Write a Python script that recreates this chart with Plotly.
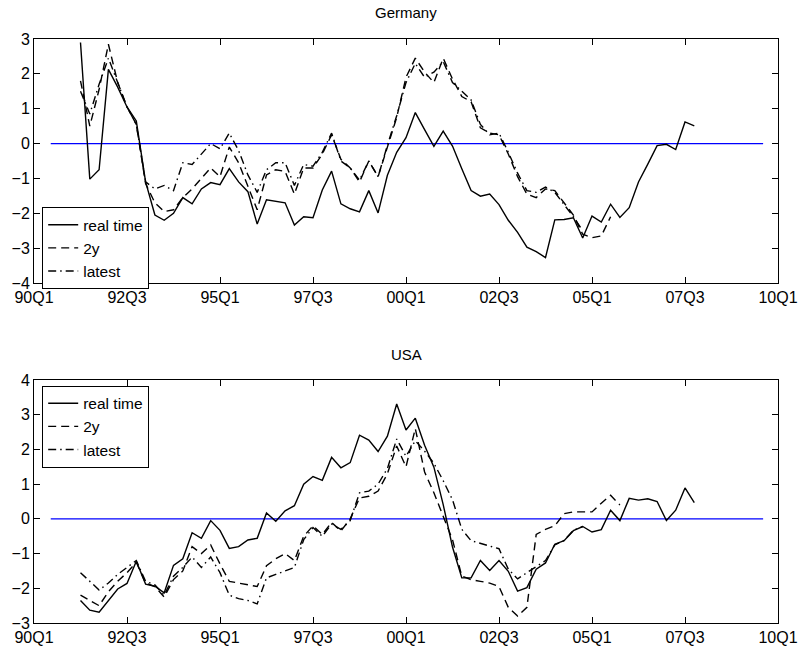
import plotly.graph_objects as go

# ---------------- data ----------------
tick_vals = [0, 10, 20, 30, 40, 50, 60, 70, 80]
tick_text = ["90Q1", "92Q3", "95Q1", "97Q3", "00Q1", "02Q3", "05Q1", "07Q3", "10Q1"]
first_quarter = 5  # quarters after 90Q1 where the series start (91Q2)

de_real = [2.9, -1.02, -0.75, 2.13, 1.62, 1.05, 0.65, -1.1, -2.05, -2.2,
           -2.0, -1.55, -1.73, -1.3, -1.12, -1.18, -0.72, -1.1, -1.38, -2.31,
           -1.61, -1.66, -1.7, -2.34, -2.1, -2.13, -1.33, -0.79, -1.73, -1.87,
           -1.96, -1.35, -1.99, -0.91, -0.25, 0.17, 0.89, 0.40, -0.08, 0.36,
           -0.07, -0.72, -1.35, -1.51, -1.45, -1.75, -2.2, -2.55, -2.97, -3.1,
           -3.27, -2.19, -2.18, -2.13, -2.71, -2.08, -2.25, -1.74, -2.12, -1.84,
           -1.10, -0.59, -0.06, -0.02, -0.17, 0.62, 0.51]
de_2y = [1.8, 0.5, 1.55, 2.85, 1.75, 1.05, 0.55, -1.15, -1.7, -1.95,
         -1.9, -1.55, -1.3, -1.0, -0.7, -0.95, -0.1, -0.55, -1.2, -1.9,
         -0.9, -0.75, -0.8, -1.45, -0.7, -0.7, -0.3, 0.25, -0.45, -0.7,
         -1.1, -0.5, -0.95, -0.1, 0.75, 1.9, 2.45, 2.05, 1.75, 2.45,
         1.85, 1.35, 1.2, 0.45, 0.3, 0.25, -0.3, -0.95, -1.45, -1.55,
         -1.3, -1.35, -1.7, -2.05, -2.6, -2.7, -2.65, -2.1]
de_latest = [1.5, 0.85, 1.7, 2.45, 1.75, 1.05, 0.55, -1.1, -1.3, -1.2,
             -1.35, -0.55, -0.6, -0.3, 0.0, -0.15, 0.3, -0.2, -0.9, -1.4,
             -0.75, -0.55, -0.55, -1.2, -0.6, -0.65, -0.25, 0.3, -0.5, -0.7,
             -1.05, -0.5, -0.95, -0.05, 0.8, 1.75, 2.3, 1.9, 2.05, 2.35,
             1.75, 1.5, 1.25, 0.55, 0.25, 0.3, -0.25, -0.85, -1.35, -1.4,
             -1.25, -1.4, -1.75, -2.1, -2.5]

us_real = [-2.35, -2.63, -2.69, -2.35, -2.02, -1.86, -1.22, -1.88, -1.94, -2.13,
           -1.34, -1.15, -0.40, -0.56, -0.05, -0.33, -0.85, -0.80, -0.61, -0.56,
           0.17, -0.07, 0.23, 0.38, 1.00, 1.22, 1.11, 1.77, 1.47, 1.62,
           2.41, 2.27, 1.94, 2.38, 3.31, 2.56, 2.90, 2.12, 1.49, 0.41,
           -0.81, -1.70, -1.70, -1.20, -1.49, -1.20, -1.51, -2.08, -1.98, -1.45,
           -1.27, -0.73, -0.63, -0.34, -0.22, -0.38, -0.31, 0.25, -0.05, 0.59,
           0.54, 0.58, 0.50, -0.05, 0.25, 0.89, 0.47]
us_2y = [-2.2, -2.35, -2.5, -2.1, -1.8, -1.55, -1.25, -1.85, -1.95, -2.25,
         -1.75, -1.5, -0.8, -1.0, -0.75, -1.3, -1.8, -1.85, -1.9, -1.95,
         -1.35, -1.15, -1.0, -1.2, -0.5, -0.2, -0.45, -0.1, -0.35, 0.0,
         0.6, 0.65, 0.8, 1.3, 2.1, 1.5, 2.6, 1.35, 0.75, 0.1,
         -0.6, -1.65, -1.75, -1.8, -1.85, -1.95, -2.55, -2.8, -2.55, -0.45,
         -0.3, -0.2, 0.15, 0.2, 0.2, 0.2, 0.45, 0.68, 0.4]
us_latest = [-1.55, -1.8, -2.05, -1.85, -1.6, -1.4, -1.2, -1.8, -1.9, -2.2,
             -1.65, -1.4, -1.1, -1.4, -1.1, -1.55, -2.2, -2.3, -2.35, -2.45,
             -1.7, -1.6, -1.5, -1.4, -0.6, -0.25, -0.5, -0.15, -0.3, -0.05,
             0.75, 0.8, 1.0, 1.45, 2.3, 1.8, 2.25, 1.95, 1.6, 1.1,
             0.55, -0.3, -0.63, -0.7, -0.78, -0.86, -1.45, -1.73, -1.55, -1.38,
             -1.2, -0.75, -0.62, -0.33, -0.22]

zero_line_x = [1.8, 78.4]
zero_line_y = [0, 0]

# ---------------- figure ----------------
FONT = "Liberation Sans, Arial, Helvetica, sans-serif"
TICK_FS = 16
LEG_FS = 15.5
TITLE_FS = 15


def xs(series):
    return list(range(first_quarter, first_quarter + len(series)))


styles = {
    "real time": dict(color="black", width=1.4, dash="solid"),
    "2y": dict(color="black", width=1.4, dash="8px,5px"),
    "latest": dict(color="black", width=1.4, dash="8px,4px,1.5px,4px"),
}

fig = go.Figure()

panels = [
    ("x", "y", "legend", [("real time", de_real), ("2y", de_2y), ("latest", de_latest)]),
    ("x2", "y2", "legend2", [("real time", us_real), ("2y", us_2y), ("latest", us_latest)]),
]

for xa, ya, leg, series in panels:
    fig.add_trace(go.Scatter(x=zero_line_x, y=zero_line_y, mode="lines",
                             line=dict(color="#0000ff", width=1.3),
                             showlegend=False, hoverinfo="skip",
                             xaxis=xa, yaxis=ya))
    for name, vals in series:
        fig.add_trace(go.Scatter(x=xs(vals), y=vals, mode="lines", name=name,
                                 line=styles[name], legend=leg,
                                 xaxis=xa, yaxis=ya))

axis_common = dict(showline=True, linecolor="black", linewidth=1, mirror="ticks",
                   ticks="inside", ticklen=6, tickcolor="black", tickwidth=1,
                   showgrid=False, zeroline=False,
                   tickfont=dict(family=FONT, size=TICK_FS, color="black"))

top_dom = [0.5822, 1.0]
bot_dom = [0.0, 0.4161]

fig.update_layout(
    width=810, height=658,
    margin=dict(l=31, r=21, t=39, b=23),
    paper_bgcolor="white", plot_bgcolor="white",
    font=dict(family=FONT, size=TICK_FS, color="black"),
    xaxis=dict(domain=[0, 1], range=[0, 80], tickvals=tick_vals, ticktext=tick_text,
               anchor="y", **axis_common),
    yaxis=dict(domain=top_dom, range=[-4, 3], dtick=1, tick0=0, anchor="x", **axis_common),
    xaxis2=dict(domain=[0, 1], range=[0, 80], tickvals=tick_vals, ticktext=tick_text,
                anchor="y2", **axis_common),
    yaxis2=dict(domain=bot_dom, range=[-3, 4], dtick=1, tick0=0, anchor="x2", **axis_common),
    legend=dict(x=0.011, y=0.712, xanchor="left", yanchor="top",
                bgcolor="white", bordercolor="black", borderwidth=1,
                font=dict(family=FONT, size=LEG_FS, color="black"), tracegroupgap=0),
    legend2=dict(x=0.011, y=0.4065, xanchor="left", yanchor="top",
                 bgcolor="white", bordercolor="black", borderwidth=1,
                 font=dict(family=FONT, size=LEG_FS, color="black"), tracegroupgap=0),
    annotations=[
        dict(text="Germany", x=0.5, y=1.045, xref="paper", yref="paper",
             showarrow=False, xanchor="center", yanchor="middle",
             font=dict(family=FONT, size=TITLE_FS, color="black")),
        dict(text="USA", x=0.5, y=0.4597, xref="paper", yref="paper",
             showarrow=False, xanchor="center", yanchor="middle",
             font=dict(family=FONT, size=TITLE_FS, color="black")),
    ],
    showlegend=True,
)

fig.write_html("out.html")
